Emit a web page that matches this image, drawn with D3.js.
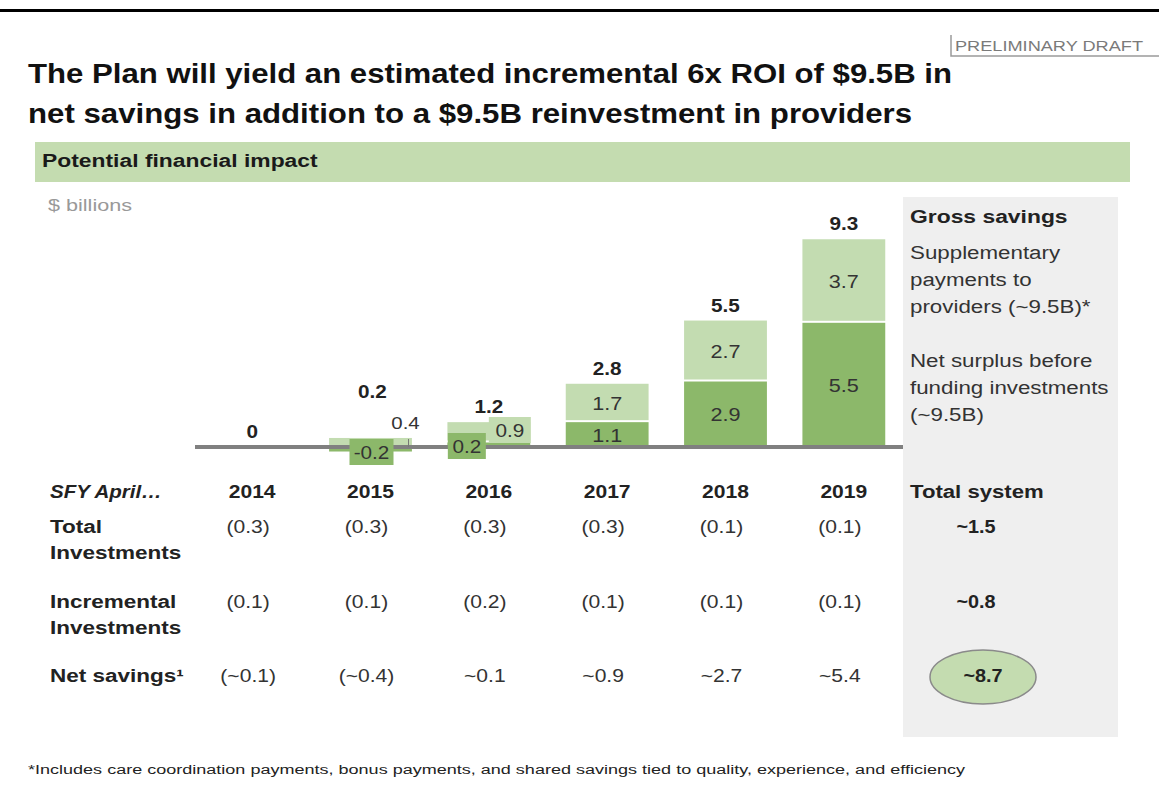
<!DOCTYPE html>
<html>
<head>
<meta charset="utf-8">
<script src="https://cdn.jsdelivr.net/npm/d3@7"></script>
<style>
  body { margin: 0; background: #fff; }
  svg text { font-family: "Liberation Sans", Arial, sans-serif; }
</style>
</head>
<body>
<div id="chart"></div>
<script>
// data
const years = ["2014", "2015", "2016", "2017", "2018", "2019"];
const netSurplus = [0, -0.2, 0.2, 1.1, 2.9, 5.5];
const supplementary = [0, 0.4, 0.9, 1.7, 2.7, 3.7];
const totals = [0, 0.2, 1.2, 2.8, 5.5, 9.3];
const totalInvestments = ["(0.3)", "(0.3)", "(0.3)", "(0.3)", "(0.1)", "(0.1)"];
const incrementalInvestments = ["(0.1)", "(0.1)", "(0.2)", "(0.1)", "(0.1)", "(0.1)"];
const netSavings = ["(~0.1)", "(~0.4)", "~0.1", "~0.9", "~2.7", "~5.4"];
const systemTotals = ["~1.5", "~0.8", "~8.7"];

const width = 1159, height = 804;
const dark = "#8cb86a", light = "#c3dcb1", textCol = "#222";

const svg = d3.select("#chart").append("svg")
    .attr("width", width).attr("height", height);

// the source renders its body text a bit wider than Arial; widen it the same way
function widen(sel, k) {
    sel.each(function () {
        const w = this.getComputedTextLength();
        d3.select(this).attr("textLength", w * k).attr("lengthAdjust", "spacingAndGlyphs");
    });
    return sel;
}

// top rule
svg.append("rect").attr("x", 0).attr("y", 9).attr("width", width).attr("height", 3).attr("fill", "#000");

// preliminary draft tag
svg.append("path").attr("d", "M951,35V56H1159").attr("fill", "none").attr("stroke", "#9a9a9a").attr("stroke-width", 1.5);
svg.append("text").attr("x", 955).attr("y", 51).attr("font-size", 15).attr("fill", "#7a7a7a")
    .attr("textLength", 188).attr("lengthAdjust", "spacingAndGlyphs")
    .text("PRELIMINARY DRAFT");

// title
const titleLines = [
    "The Plan will yield an estimated incremental 6x ROI of $9.5B in",
    "net savings in addition to a $9.5B reinvestment in providers"
];
const titleW = [924, 884];
titleLines.forEach((t, i) => {
    svg.append("text").attr("x", 28).attr("y", 83 + i * 40)
        .attr("font-size", 27).attr("font-weight", "bold").attr("fill", "#111")
        .attr("textLength", titleW[i]).attr("lengthAdjust", "spacingAndGlyphs")
        .text(t);
});

// green header band
svg.append("rect").attr("x", 35).attr("y", 142).attr("width", 1095).attr("height", 40).attr("fill", "#c4dcb0");
widen(svg.append("text").attr("x", 42).attr("y", 167).attr("font-size", 18).attr("font-weight", "bold")
    .attr("fill", "#1a1a1a").text("Potential financial impact"), 1.27);

widen(svg.append("text").attr("x", 48).attr("y", 211).attr("font-size", 16).attr("fill", "#999").text("$ billions"), 1.35);

// right panel
svg.append("rect").attr("x", 903).attr("y", 197).attr("width", 215).attr("height", 540).attr("fill", "#efefef");

// scales
const x = d3.scaleBand().domain(years).range([193, 903]).paddingInner(0.3).paddingOuter(0.15);
const y = d3.scaleLinear().domain([0, 9.3]).range([447, 237]);

const rows = years.map((yr, i) => ({
    year: yr, net: netSurplus[i], sup: supplementary[i], total: totals[i]
}));

const gap = 1;
const g = svg.append("g");

// net surplus (dark) segment
g.selectAll(".net").data(rows.filter(d => d.net !== 0)).join("rect")
    .attr("x", d => x(d.year)).attr("width", x.bandwidth())
    .attr("y", d => d.net > 0 ? y(d.net) : y(0))
    .attr("height", d => Math.abs(y(d.net) - y(0)))
    .attr("fill", dark);

// supplementary (light) segment on top of positive net
g.selectAll(".sup").data(rows.filter(d => d.sup !== 0)).join("rect")
    .attr("x", d => x(d.year)).attr("width", x.bandwidth())
    .attr("y", d => y(Math.max(d.net, 0) + d.sup))
    .attr("height", d => y(Math.max(d.net, 0)) - y(Math.max(d.net, 0) + d.sup) - (d.net > 0 ? 2 * gap : 0))
    .attr("fill", light);

// baseline
svg.append("line").attr("x1", 195).attr("x2", 903).attr("y1", y(0)).attr("y2", y(0))
    .attr("stroke", "#808080").attr("stroke-width", 4);

// segment labels
const big = rows.filter(d => d.net >= 1);
widen(g.selectAll(".netLbl").data(big).join("text")
    .attr("x", d => x(d.year) + x.bandwidth() / 2)
    .attr("y", d => (y(0) + y(d.net)) / 2 + 7)
    .attr("text-anchor", "middle").attr("font-size", 18).attr("fill", "#333")
    .text(d => d.net.toFixed(1)), 1.2);
widen(g.selectAll(".supLbl").data(big).join("text")
    .attr("x", d => x(d.year) + x.bandwidth() / 2)
    .attr("y", d => (y(d.net) + y(d.net + d.sup)) / 2 + 7)
    .attr("text-anchor", "middle").attr("font-size", 18).attr("fill", "#333")
    .text(d => d.sup.toFixed(1)), 1.2);

// small-value labels with filled boxes (2015, 2016)
function boxLabel(cx, cy, w, fill, txt) {
    svg.append("rect").attr("x", cx - w / 2).attr("y", cy - 13).attr("width", w).attr("height", 26).attr("fill", fill);
    widen(svg.append("text").attr("x", cx).attr("y", cy + 7).attr("text-anchor", "middle")
        .attr("font-size", 18).attr("fill", "#333").text(txt), 1.15);
}
const c15 = x("2015") + x.bandwidth() / 2, c16 = x("2016") + x.bandwidth() / 2;
boxLabel(c15 + 1, y(0) + 5, 44, dark, netSurplus[1].toFixed(1));
svg.append("line").attr("x1", c15 + 38).attr("x2", c15 + 38).attr("y1", y(0) - 8).attr("y2", y(0))
    .attr("stroke", "#777").attr("stroke-width", 1);
widen(svg.append("text").attr("x", c15 + 35).attr("y", y(0) - 18).attr("text-anchor", "middle")
    .attr("font-size", 17).attr("fill", "#333").text(supplementary[1].toFixed(1)), 1.2);
boxLabel(c16 - 22, y(0) - 1, 38, dark, netSurplus[2].toFixed(1));
boxLabel(c16 + 21, y(0) - 17, 42, light, supplementary[2].toFixed(1));

// total labels
const totalOffset = { "2015": 40 };
widen(g.selectAll(".tot").data(rows).join("text")
    .attr("x", d => x(d.year) + x.bandwidth() / 2 + (d.year === "2015" ? 2 : 0))
    .attr("y", d => y(Math.max(d.net, 0) + d.sup) - (totalOffset[d.year] || 9))
    .attr("text-anchor", "middle").attr("font-size", 18).attr("font-weight", "bold").attr("fill", textCol)
    .text(d => d.total === 0 ? "0" : d.total.toFixed(1)), 1.15);

// table
widen(svg.append("text").attr("x", 50).attr("y", 498).attr("font-size", 18).attr("font-weight", "bold")
    .attr("font-style", "italic").attr("fill", textCol).text("SFY April\u2026"), 1.14);
widen(svg.selectAll(".yr").data(years).join("text")
    .attr("x", d => x(d) + x.bandwidth() / 2).attr("y", 498)
    .attr("text-anchor", "middle").attr("font-size", 18).attr("font-weight", "bold").attr("fill", textCol)
    .text(d => d), 1.17);

const rowLabels = [
    { lines: ["Total", "Investments"], y: 533, vals: totalInvestments },
    { lines: ["Incremental", "Investments"], y: 608, vals: incrementalInvestments },
    { lines: ["Net savings\u00b9"], y: 682, vals: netSavings }
];
rowLabels.forEach((r, ri) => {
    r.lines.forEach((l, li) => {
        widen(svg.append("text").attr("x", 50).attr("y", r.y + li * 26).attr("font-size", 18)
            .attr("font-weight", "bold").attr("fill", textCol).text(l), 1.25);
    });
    widen(svg.selectAll(".v" + ri).data(r.vals).join("text")
        .attr("x", (d, i) => x(years[i]) + x.bandwidth() / 2 - 4).attr("y", r.y)
        .attr("text-anchor", "middle").attr("font-size", 18).attr("fill", "#333")
        .text(d => d), 1.17);
});

// right panel content
widen(svg.append("text").attr("x", 910).attr("y", 223).attr("font-size", 18).attr("font-weight", "bold")
    .attr("fill", textCol).text("Gross savings"), 1.27);
const legend1 = ["Supplementary", "payments to", "providers (~9.5B)*"];
const legend2 = ["Net surplus before", "funding investments", "(~9.5B)"];
legend1.forEach((l, i) => widen(svg.append("text").attr("x", 910).attr("y", 259 + i * 27)
    .attr("font-size", 18).attr("fill", "#333").text(l), 1.24));
legend2.forEach((l, i) => widen(svg.append("text").attr("x", 910).attr("y", 367 + i * 27)
    .attr("font-size", 18).attr("fill", "#333").text(l), 1.24));

widen(svg.append("text").attr("x", 910).attr("y", 498).attr("font-size", 18).attr("font-weight", "bold")
    .attr("fill", textCol).text("Total system"), 1.23);
svg.append("ellipse").attr("cx", 983).attr("cy", 677).attr("rx", 53).attr("ry", 27)
    .attr("fill", "#c4dcb0").attr("stroke", "#8a8a8a").attr("stroke-width", 1.5);
systemTotals.forEach((v, i) => widen(svg.append("text")
    .attr("x", 976 + (i === 2 ? 7 : 0)).attr("y", rowLabels[i].y)
    .attr("text-anchor", "middle").attr("font-size", 18).attr("font-weight", "bold").attr("fill", textCol)
    .text(v), 1.1));

// footnote
svg.append("text").attr("x", 28).attr("y", 774).attr("font-size", 12.5).attr("fill", "#222")
    .attr("textLength", 937).attr("lengthAdjust", "spacingAndGlyphs")
    .text("*Includes care coordination payments, bonus payments, and shared savings tied to quality, experience, and efficiency");
</script>
</body>
</html>
